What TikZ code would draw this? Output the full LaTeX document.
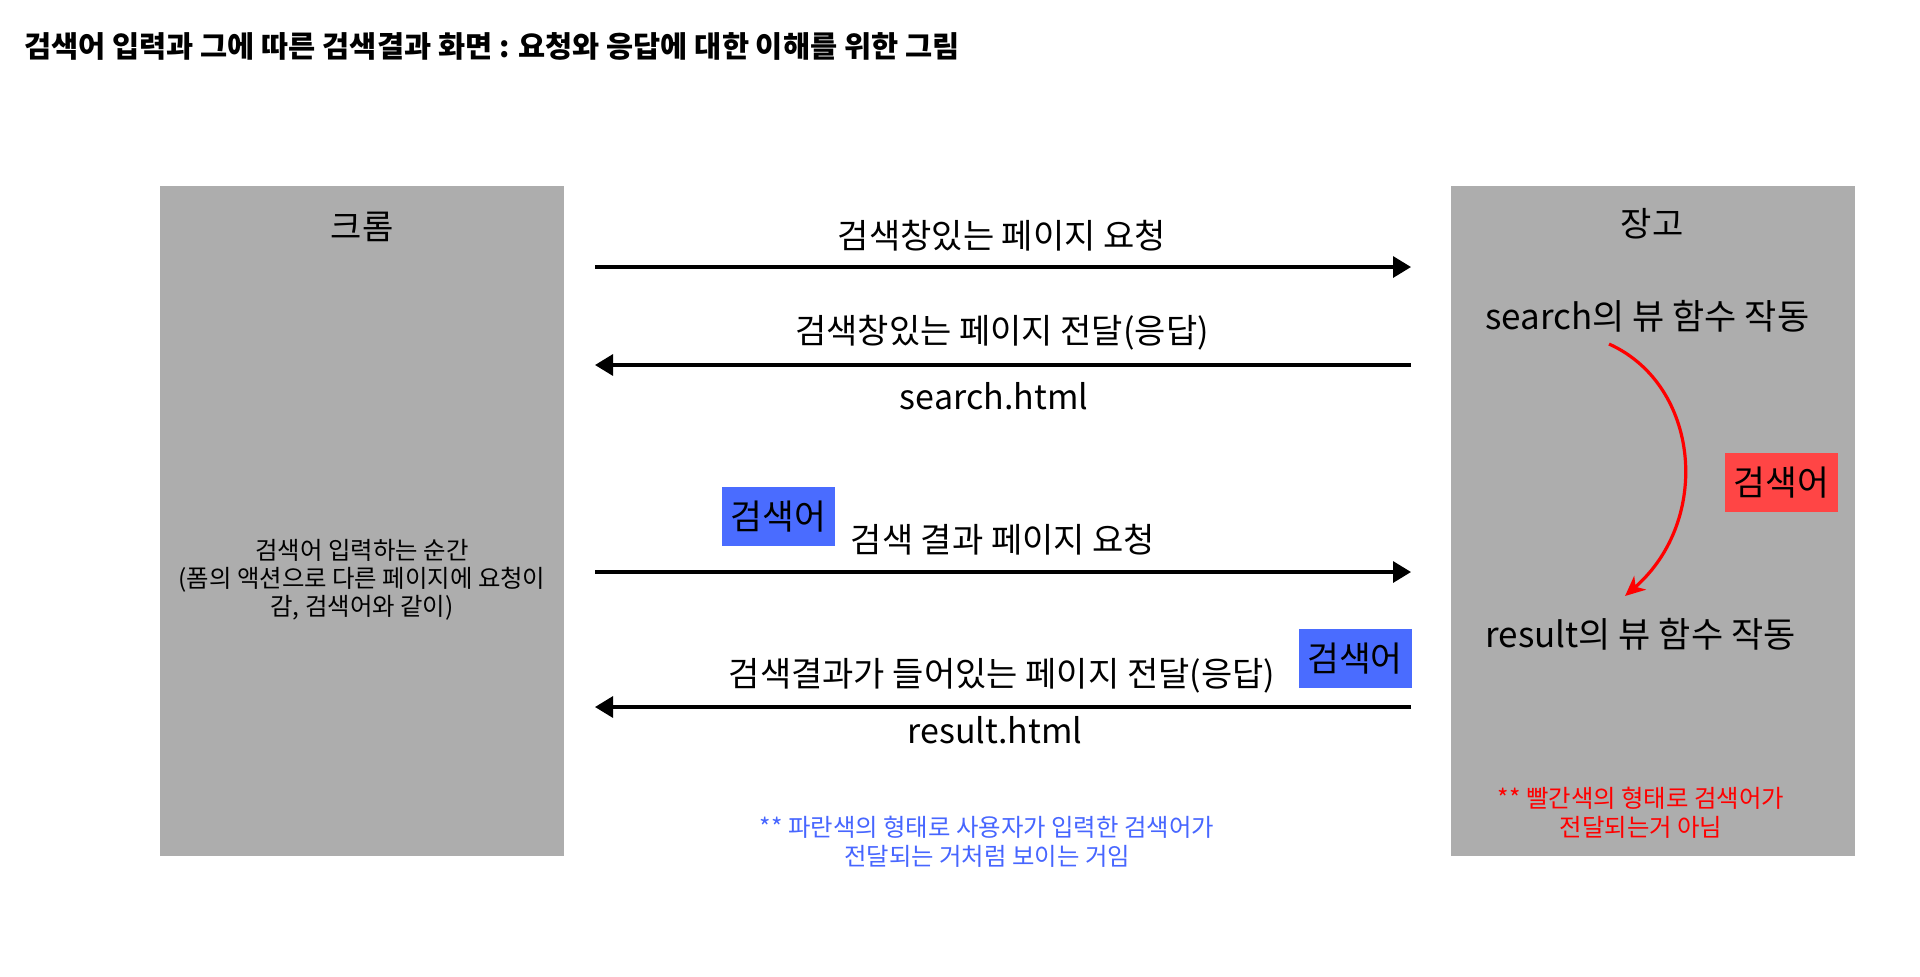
\documentclass[tikz,border=0pt]{standalone}
\usepackage{fontspec}
\setmainfont{Noto Sans CJK KR}
\usetikzlibrary{arrows.meta}
\definecolor{panelgray}{HTML}{ADADAD}
\definecolor{tagblue}{HTML}{4A6CFF}
\definecolor{noteblue}{HTML}{4766FF}
\definecolor{tagred}{HTML}{FF4545}

\begin{document}
\begin{tikzpicture}[x=0.5pt,y=-0.5pt,
  panel/.style={fill=panelgray,minimum width=202pt,minimum height=335pt,inner sep=0pt},
  head/.style={font={\fontsize{17}{20}\selectfont}},
  lbl/.style={font={\fontsize{17}{20}\selectfont},inner sep=0pt},
  tag/.style={minimum width=56.5pt,minimum height=29.5pt,inner sep=0pt,
    font={\fontsize{17.3}{20}\selectfont}},
  note/.style={align=center,inner sep=0pt,font={\fontsize{12.2}{14.3}\selectfont}},
  arr/.style={-{Triangle[length=9pt,width=10.5pt]},line width=1.6pt}]
\useasboundingbox[fill=white] (0,0) rectangle (1920,976);
\node[anchor=west,inner sep=0pt,font={\fontsize{14.75}{17}\selectfont\bfseries}] (title) at (24,46)
  {검색어 입력과 그에 따른 검색결과 화면 : 요청와 응답에 대한 이해를 위한 그림};
% two sides
\node[panel] (chrome) at (362,521) {};
\node[panel] (django) at (1653,521) {};
\node[head] (chromename) at (362,227) {크롬};
\node[head] (djangoname) at (1652,224) {장고};
\node[note,font={\fontsize{12.2}{14}\selectfont}] (typing) at (362,580)
  {검색어 입력하는 순간\\(폼의 액션으로 다른 페이지에 요청이\\감, 검색어와 같이)};
\node[lbl,anchor=west,font={\fontsize{17.5}{20}\selectfont}] (searchview) at (1485,316) {search의 뷰 함수 작동};
\node[lbl,anchor=west,font={\fontsize{17.5}{20}\selectfont}] (resultview) at (1485,634) {result의 뷰 함수 작동};
% arrow ends
\coordinate (c1) at (595,267);  \coordinate (d1) at (1411,267);
\coordinate (c2) at (595,365);  \coordinate (d2) at (1411,365);
\coordinate (c3) at (595,572);  \coordinate (d3) at (1411,572);
\coordinate (c4) at (595,707);  \coordinate (d4) at (1411,707);
\draw[arr] (c1) -- (d1);
\draw[arr] (d2) -- (c2);
\draw[arr] (c3) -- (d3);
\draw[arr] (d4) -- (c4);
\node[lbl] (askpage) at (1002,236) {검색창있는 페이지 요청};
\node[lbl] (givepage) at (1002,333) {검색창있는 페이지 전달(응답)};
\node[lbl] (searchfile) at (994,396) {search.html};
\node[lbl] (askresult) at (1003,540) {검색 결과 페이지 요청};
\node[lbl] (giveresult) at (1002,676) {검색결과가 들어있는 페이지 전달(응답)};
\node[lbl] (resultfile) at (995,730) {result.html};
\node[tag,fill=tagblue] (keyout) at (778.5,516.5) {검색어};
\node[tag,fill=tagblue] (keyback) at (1355,658.5) {검색어};
% inside django
\coordinate (vs) at (1609,344);
\coordinate (ve) at (1625,596);
\draw[red,line width=1.6pt,-{Stealth[length=10pt,width=9pt,inset=3pt]}]
  (vs) .. controls (1700,385) and (1712,520) .. (ve);
\node[tag,fill=tagred] (keyred) at (1781.5,482.5) {검색어};
\node[note,text=noteblue] (bluenote) at (987,842)
  {** 파란색의 형태로 사용자가 입력한 검색어가\\전달되는 거처럼 보이는 거임};
\node[note,text=red] (rednote) at (1641,813)
  {** 빨간색의 형태로 검색어가\\전달되는거 아님};
\end{tikzpicture}
\end{document}
